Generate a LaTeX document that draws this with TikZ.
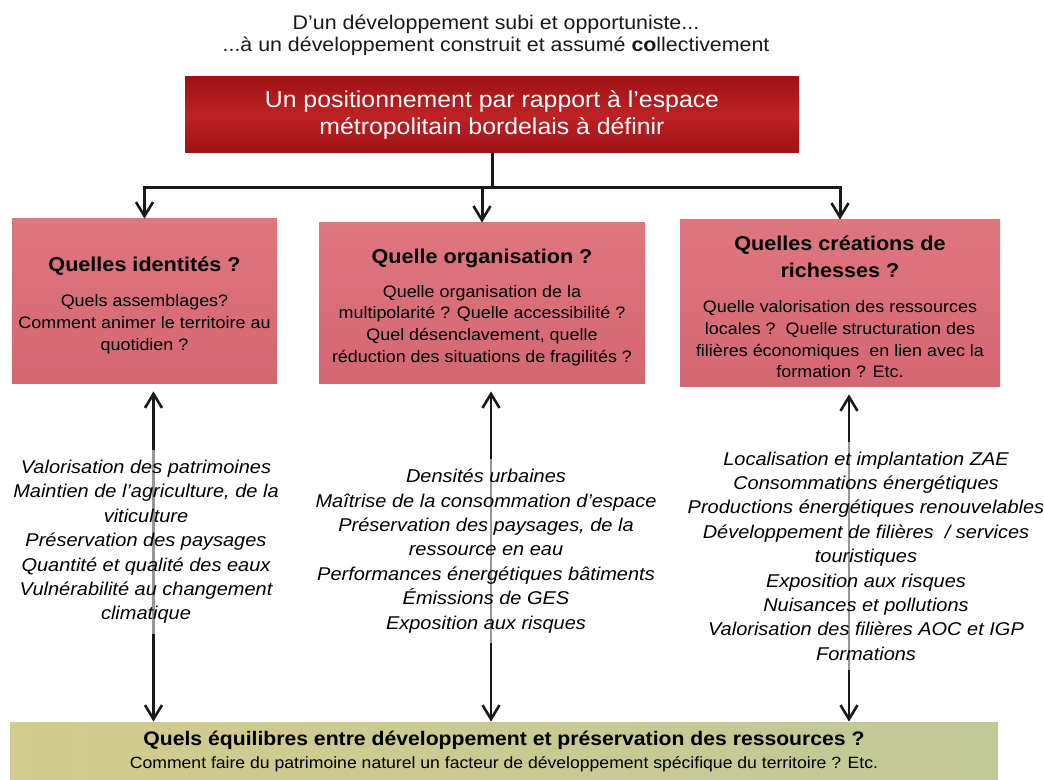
\documentclass[tikz,border=0pt]{standalone}
\usepackage{fontspec}
\setmainfont{Liberation Sans}[FakeStretch=1.08]
\usepackage{tikz}
\usetikzlibrary{positioning,calc,arrows.meta}
\definecolor{ink}{RGB}{25,25,25}
\definecolor{redT}{RGB}{160,18,22}
\definecolor{redM}{RGB}{190,34,36}
\definecolor{pinkT}{RGB}{222,118,128}
\definecolor{pinkB}{RGB}{212,102,114}
\definecolor{greenL}{RGB}{210,204,142}
\definecolor{greenR}{RGB}{192,200,150}
\newcommand*{\fsz}[2]{\fontsize{#1}{#2}\selectfont}
\newcommand*{\head}[1]{{\bfseries\fsz{10}{13}#1}}
\newcommand*{\lift}{\rule{0pt}{11pt}}

\begin{document}
\begin{tikzpicture}[x=.5pt,y=-.5pt,
  topbox/.style={align=center,text=white,font=\fsz{11.5}{13.5},
    top color=redT,bottom color=redT,middle color=redM,
    minimum width=307pt,minimum height=38pt},
  pinkbox/.style={align=center,inner sep=2pt,font=\fsz{8.3}{10.85},
    top color=pinkT,bottom color=pinkB},
  greenbox/.style={align=center,font=\fsz{8.15}{11.5},
    left color=greenL,right color=greenR,
    minimum width=494pt,minimum height=30pt},
  keys/.style={align=center,font=\itshape\fsz{9.25}{12.2},inner sep=5pt,
    fill=white,fill opacity=.55,text opacity=1},
  tip/.tip={Straight Barb[length=7pt,width=8.5pt,line width=1.3pt]},
  conn/.style={line width=1.5pt,draw=ink,-tip},
  dbl/.style={line width=1.4pt,draw=ink,tip-tip}]
\useasboundingbox (0,0) rectangle (1044,780);
% Title above the chart
\node[font=\fsz{9.9}{11},align=center,text=ink] (title) at (496,35)
  {D’un développement subi et opportuniste...\\...à un développement construit et assumé \textbf{co}llectivement};
% Red box at the top
\node[topbox] (space) at (492,115)
  {Un positionnement par rapport à l’espace\\métropolitain bordelais à définir};
% The three question boxes
\node[pinkbox,minimum width=132.5pt,minimum height=82.5pt] (ident) at (144.5,301.5)
  {\lift\head{Quelles identités ?}\\[7pt]Quels assemblages?\\Comment animer le territoire au\\quotidien ?};
\node[pinkbox,minimum width=163pt,minimum height=80.5pt] (orga) at (482,303.5)
  {\lift\head{Quelle organisation ?}\\[6pt]Quelle organisation de la\\multipolarité ? Quelle accessibilité ?\\Quel désenclavement, quelle\\réduction des situations de fragilités ?};
\node[pinkbox,minimum width=160pt,minimum height=83.5pt] (rich) at (840,303.5)
  {\lift\head{Quelles créations de}\\[2.2pt]\head{richesses ?}\\[7pt]Quelle valorisation des ressources\\locales ?\ \ Quelle structuration des\\filières économiques\ \ en lien avec la\\formation ? Etc.};
% Green box at the bottom
\node[greenbox] (balance) at (504,752)
  {\textbf{\fsz{9.8}{11}Quels équilibres entre développement et préservation des ressources ?}\\Comment faire du patrimoine naturel un facteur de développement spécifique du territoire ? Etc.};
% Fork from the red box down to the three boxes
\coordinate (fork) at ($(space.south)+(0,34)$);
\draw[line width=1.5pt,draw=ink] (space.south) -- (fork);
\draw[conn] (fork) -| (ident.north);
\draw[conn] (fork) -| (rich.north);
\draw[conn] (fork -| orga.north) -- (orga.north);
% Double arrows from each box to the green box
\foreach \b in {ident,orga,rich}
  \draw[dbl] ($(\b.south)+(9,7)$) -- ($(\b.south |- balance.north)+(9,0)$);
% Keywords laid over the double arrows
\node[keys] (identK) at (146,542)
  {Valorisation des patrimoines\\Maintien de l’agriculture, de la\\viticulture\\Préservation des paysages\\Quantité et qualité des eaux\\Vulnérabilité au changement\\climatique};
\node[keys] (orgaK) at (486,551)
  {Densités urbaines\\Maîtrise de la consommation d’espace\\Préservation des paysages, de la\\ressource en eau\\Performances énergétiques bâtiments\\Émissions de GES\\Exposition aux risques};
\node[keys] (richK) at (866,556)
  {Localisation et implantation ZAE\\Consommations énergétiques\\Productions énergétiques renouvelables\\Développement de filières\ \ / services\\touristiques\\Exposition aux risques\\Nuisances et pollutions\\Valorisation des filières AOC et IGP\\Formations};
\end{tikzpicture}
\end{document}
